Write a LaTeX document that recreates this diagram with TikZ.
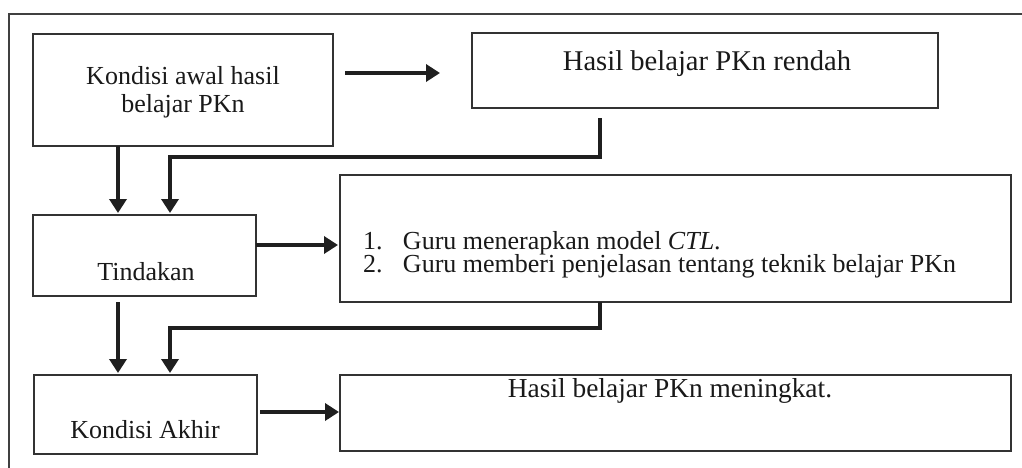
\documentclass[tikz,border=0pt]{standalone}
\usepackage{fontspec}
\setmainfont{Liberation Serif}
\usetikzlibrary{arrows.meta}
\begin{document}
\begin{tikzpicture}[x=0.5pt,y=-0.5pt,
  box/.style={draw=black!80,line width=0.6pt,inner sep=0pt,outer sep=0pt},
  lbl/.style={inner sep=0pt,outer sep=0pt,text=black!90,font=\fontsize{13pt}{14pt}\selectfont},
  arr/.style={line width=2.4pt,draw=black!88,-{Triangle[width=8.5pt,length=7pt]}},
]
\useasboundingbox (0,0) rectangle (1022,467);
% outer frame (cropped)
\draw[line width=1.2pt,black!75] (9,490) -- (9,14) -- (1050,14);

% boxes
\node[box,minimum width=150pt,minimum height=56pt] (a) at (183,90) {};
\node[box,minimum width=233pt,minimum height=37.5pt] (b) at (705,70.5) {};
\node[box,minimum width=111.5pt,minimum height=40.5pt] (c) at (144.5,255.5) {};
\node[box,minimum width=335.5pt,minimum height=63.5pt] (d) at (675.5,238.5) {};
\node[box,minimum width=111.5pt,minimum height=39.5pt] (e) at (145.5,414.5) {};
\node[box,minimum width=335.5pt,minimum height=38pt] (f) at (675.5,413) {};

% texts
\node[lbl,align=center,font=\fontsize{13pt}{14pt}\selectfont] (ta) at (183,92) {Kondisi awal hasil\\belajar PKn};
\node[lbl,anchor=base,font=\fontsize{14.3pt}{16pt}\selectfont] (tb) at (707,70) {Hasil belajar PKn rendah};
\node[lbl,anchor=base] (tc) at (146,280) {Tindakan};
\node[lbl,anchor=base west] (td1) at (363,249) {\makebox[20pt][l]{1.}Guru menerapkan model \textit{CTL}.};
\node[lbl,anchor=base west] (td2) at (363,272) {\makebox[20pt][l]{2.}Guru memberi penjelasan tentang teknik belajar PKn};
\node[lbl,anchor=base] (te) at (145,438) {Kondisi Akhir};
\node[lbl,anchor=base,font=\fontsize{13.7pt}{15pt}\selectfont] (tf) at (670,397) {Hasil belajar PKn meningkat.};

% helper coordinates
\coordinate (xl) at (118,0);
\coordinate (xr) at (170,0);
\coordinate (xm) at (600,0);
\coordinate (h1) at (0,157);
\coordinate (h2) at (0,328);

% connectors
\draw[arr] ([shift={(12,-17)}]a.east) -- ([shift={(-32,2.5)}]b.west);
\draw[arr,shorten >=1pt] (a.south -| xl) -- (c.north -| xl);
\draw[arr,shorten >=1pt] ([shift={(-105,10)}]b.south) -- (xm |- h1) -| (c.north -| xr);
\draw[arr] ([shift={(0,-10.5)}]c.east) -- ([shift={(-2,6.5)}]d.west);
\draw[arr,shorten <=3pt,shorten >=1pt] (c.south -| xl) -- (e.north -| xl);
\draw[arr,shorten >=1pt] ([shift={(-75.5,0)}]d.south) -- (xm |- h2) -| (e.north -| xr);
\draw[arr] ([shift={(3,-2.5)}]e.east) -- ([shift={(-1,-1)}]f.west);
\end{tikzpicture}
\end{document}
